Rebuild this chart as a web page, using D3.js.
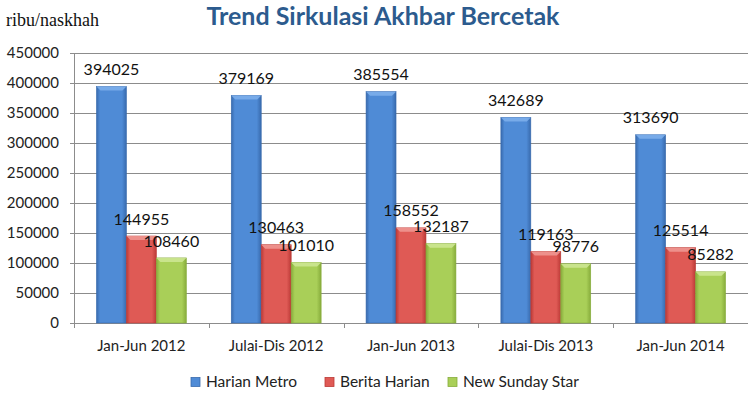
<!DOCTYPE html>
<html>
<head>
<meta charset="utf-8">
<script src="https://cdn.jsdelivr.net/npm/d3@7"></script>
<style>
  body { margin: 0; background: #fff; }
  svg { display: block; }
</style>
</head>
<body>
<div id="chart"></div>
<script>
const periods = ["Jan-Jun 2012", "Julai-Dis 2012", "Jan-Jun 2013", "Julai-Dis 2013", "Jan-Jun 2014"];
const seriesNames = ["Harian Metro", "Berita Harian", "New Sunday Star"];
const harianMetro = [394025, 379169, 385554, 342689, 313690];
const beritaHarian = [144955, 130463, 158552, 119163, 125514];
const newSundayStar = [108460, 101010, 132187, 98776, 85282];
const yTicks = [0, 50000, 100000, 150000, 200000, 250000, 300000, 350000, 400000, 450000];

const width = 748,
    height = 403,
    margin = { top: 53, right: 0, bottom: 80, left: 74 };

// colours: [dark edge, light middle, top bevel]
const palette = [
    ["#386aad", "#4f8bd6", "#7fb0ec"],
    ["#bb3936", "#df5a55", "#f09a95"],
    ["#87ac3b", "#a9cf58", "#cfe795"]
];

const values = [harianMetro, beritaHarian, newSundayStar];
const data = periods.map((p, i) => ({
    period: p,
    vals: seriesNames.map((s, j) => ({ s: j, v: values[j][i] }))
}));

const svg = d3.select("#chart")
    .append("svg")
    .attr("width", width)
    .attr("height", height)
    .style("font-family", "Lato, 'Open Sans', sans-serif");

const defs = svg.append("defs");
palette.forEach((c, j) => {
    const g = defs.append("linearGradient")
        .attr("id", "grad" + j)
        .attr("x1", "0%").attr("x2", "100%").attr("y1", "0%").attr("y2", "0%");
    g.append("stop").attr("offset", "0%").attr("stop-color", c[0]);
    g.append("stop").attr("offset", "12%").attr("stop-color", c[1]);
    g.append("stop").attr("offset", "85%").attr("stop-color", c[1]);
    g.append("stop").attr("offset", "100%").attr("stop-color", c[0]);
});

const x0 = d3.scaleBand()
    .domain(periods)
    .range([margin.left, width - margin.right])
    .paddingInner(1 / 3)
    .paddingOuter(1 / 6);

const x1 = d3.scaleBand()
    .domain(d3.range(seriesNames.length))
    .range([0, x0.bandwidth()]);

const y = d3.scaleLinear()
    .domain([0, 450000])
    .range([height - margin.bottom, margin.top]);

// gridlines
svg.append("g")
    .selectAll("line")
    .data(yTicks)
    .join("line")
    .attr("x1", margin.left - 4)
    .attr("x2", width - margin.right)
    .attr("y1", d => Math.round(y(d)) + 0.5)
    .attr("y2", d => Math.round(y(d)) + 0.5)
    .attr("stroke", "#8c8c8c")
    .attr("stroke-width", 1);

// y axis line
svg.append("line")
    .attr("x1", margin.left + 0.5).attr("x2", margin.left + 0.5)
    .attr("y1", y(450000)).attr("y2", y(0))
    .attr("stroke", "#8c8c8c");

// y labels
svg.append("g")
    .selectAll("text")
    .data(yTicks)
    .join("text")
    .attr("x", margin.left - 15)
    .attr("y", d => y(d))
    .attr("dy", "0.35em")
    .attr("text-anchor", "end")
    .attr("font-size", 15)
    .attr("fill", "#222")
    .text(d => d);

// x ticks at category boundaries
const step = x0.step();
svg.append("g")
    .selectAll("line")
    .data(d3.range(periods.length + 1))
    .join("line")
    .attr("x1", i => Math.round(margin.left + i * step) + 0.5)
    .attr("x2", i => Math.round(margin.left + i * step) + 0.5)
    .attr("y1", y(0))
    .attr("y2", y(0) + 5)
    .attr("stroke", "#8c8c8c");

// x labels
svg.append("g")
    .selectAll("text")
    .data(periods)
    .join("text")
    .attr("x", d => x0(d) + x0.bandwidth() / 2)
    .attr("y", y(0) + 23)
    .attr("dy", "0.35em")
    .attr("text-anchor", "middle")
    .attr("font-size", 15)
    .attr("fill", "#222")
    .text(d => d);

// bars
const groups = svg.append("g")
    .selectAll("g")
    .data(data)
    .join("g")
    .attr("transform", d => `translate(${x0(d.period)},0)`);

groups.selectAll("rect.bar")
    .data(d => d.vals)
    .join("rect")
    .attr("class", "bar")
    .attr("x", d => x1(d.s))
    .attr("y", d => y(d.v))
    .attr("width", x1.bandwidth())
    .attr("height", d => y(0) - y(d.v))
    .attr("fill", d => `url(#grad${d.s})`)
    .attr("stroke", d => palette[d.s][0])
    .attr("stroke-width", 0.6);

// top bevel
groups.selectAll("path.bevel")
    .data(d => d.vals)
    .join("path")
    .attr("class", "bevel")
    .attr("d", d => {
        const bx = x1(d.s), bw = x1.bandwidth(), by = y(d.v), b = 4;
        return `M${bx},${by}L${bx + bw},${by}L${bx + bw - b},${by + b}L${bx + b},${by + b}Z`;
    })
    .attr("fill", d => palette[d.s][2])
    .attr("opacity", 0.85);

// value labels
groups.selectAll("text")
    .data(d => d.vals)
    .join("text")
    .attr("x", d => x1(d.s) + x1.bandwidth() / 2)
    .attr("y", d => y(d.v) - 17)
    .attr("dy", "0.35em")
    .attr("text-anchor", "middle")
    .attr("font-size", 16)
    .attr("fill", "#111")
    .text(d => d.v);

// title
svg.append("text")
    .attr("x", 383)
    .attr("y", 16)
    .attr("dy", "0.35em")
    .attr("text-anchor", "middle")
    .attr("font-size", 25)
    .attr("font-weight", "bold")
    .attr("fill", "#2c5b8e")
    .text("Trend Sirkulasi Akhbar Bercetak");

// unit label
svg.append("text")
    .attr("x", 6)
    .attr("y", 20)
    .attr("dy", "0.35em")
    .attr("font-family", "'Liberation Serif', 'Times New Roman', serif")
    .attr("font-size", 18)
    .attr("fill", "#111")
    .text("ribu/naskhah");

// legend
const legendX = [191, 325, 448];
const legend = svg.append("g")
    .selectAll("g")
    .data(seriesNames)
    .join("g")
    .attr("transform", (d, i) => `translate(${legendX[i]},382)`);

legend.append("rect")
    .attr("x", 0).attr("y", -4.5)
    .attr("width", 9).attr("height", 9)
    .attr("fill", (d, i) => palette[i][1])
    .attr("stroke", (d, i) => palette[i][0])
    .attr("stroke-width", 0.8);

legend.append("text")
    .attr("x", 15)
    .attr("y", 0)
    .attr("dy", "0.35em")
    .attr("font-size", 15.5)
    .attr("fill", "#222")
    .text(d => d);
</script>
</body>
</html>
